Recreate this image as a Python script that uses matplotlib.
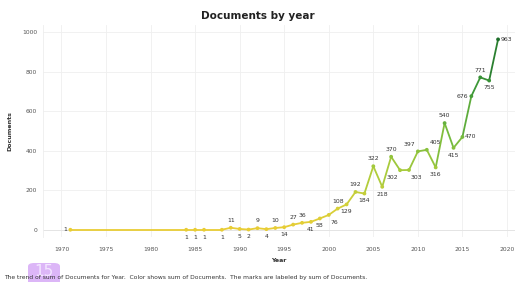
import numpy as np
import matplotlib.pyplot as plt
from matplotlib.collections import LineCollection
from matplotlib.colors import LinearSegmentedColormap
from matplotlib.patches import FancyBboxPatch

years = [1971, 1984, 1985, 1986, 1988, 1989, 1990, 1991, 1992, 1993, 1994,
         1995, 1996, 1997, 1998, 1999, 2000, 2001, 2002, 2003, 2004, 2005,
         2006, 2007, 2008, 2009, 2010, 2011, 2012, 2013, 2014, 2015, 2016,
         2017, 2018, 2019]
docs = [1, 1, 1, 1, 1, 11, 5, 2, 9, 4, 10,
        14, 27, 36, 41, 58, 76, 108, 129, 192, 184, 322,
        218, 370, 302, 303, 397, 405, 316, 540, 415, 470, 676,
        771, 755, 963]
# where each mark label sits relative to its point
label_side = ['L', 'B', 'B', 'B', 'B', 'A', 'B', 'B', 'A', 'B', 'A',
              'B', 'A', 'A', 'B', 'B', 'BR', 'A', 'B', 'A', 'B', 'A',
              'B', 'A', 'BL', 'BR', 'AL', 'AR', 'B', 'A', 'B', 'R', 'L',
              'A', 'B', 'R']

cmap = LinearSegmentedColormap.from_list(
    'yg', [(0.0, '#e9cd35'), (0.12, '#d4cf38'), (0.3, '#abcc3c'),
           (0.5, '#72b93e'), (0.75, '#3d9838'), (1.0, '#1d6e2a')])
norm = plt.Normalize(0, 963)

fig = plt.figure(figsize=(5.15, 2.82), dpi=100)
ax = fig.add_axes([0.083, 0.16, 0.917, 0.753])

x = np.array(years, dtype=float)
y = np.array(docs, dtype=float)
pts = np.column_stack([x, y]).reshape(-1, 1, 2)
segs = np.concatenate([pts[:-1], pts[1:]], axis=1)
lc = LineCollection(segs, cmap=cmap, norm=norm, linewidth=1.3,
                    capstyle='round', joinstyle='round', zorder=3)
lc.set_array((y[:-1] + y[1:]) / 2)
ax.add_collection(lc)
ax.scatter(x, y, c=y, cmap=cmap, norm=norm, s=3, zorder=4)

offsets = {'A': (0, 3.5, 'center', 'bottom'), 'B': (0, -3.5, 'center', 'top'),
           'L': (-2.5, 0, 'right', 'center'), 'R': (2, 0, 'left', 'center'),
           'AL': (-2, 3.5, 'right', 'bottom'), 'AR': (2, 3.5, 'left', 'bottom'),
           'BL': (-1, -3.5, 'right', 'top'), 'BR': (1, -3.5, 'left', 'top')}
for xi, yi, side in zip(years, docs, label_side):
    dx, dy, ha, va = offsets[side]
    ax.annotate(str(yi), (xi, yi), xytext=(dx, dy), textcoords='offset points',
                ha=ha, va=va, fontsize=4.4, color='#333333', zorder=5)

ax.set_xlim(1967.9, 2020.9)
ax.set_ylim(-35, 1038)
ax.set_xticks(range(1970, 2021, 5))
ax.set_yticks(range(0, 1001, 200))
ax.tick_params(labelsize=4.3, colors='#555555', length=0)
ax.tick_params(axis='x', pad=7.5)
ax.tick_params(axis='y', pad=4)
ax.grid(True, color='#efefef', linewidth=0.6)
ax.axhline(0, color='#e2e2e2', linewidth=0.6, zorder=1)
for s in ['top', 'right', 'bottom']:
    ax.spines[s].set_visible(False)
ax.spines['left'].set_color('#eeeeee')
ax.spines['left'].set_linewidth(0.6)
ax.set_axisbelow(True)

ax.set_xlabel('Year', fontsize=4.5, fontweight='bold', color='#333333', labelpad=4)
ax.set_ylabel('Documents', fontsize=4.5, fontweight='bold', color='#333333', labelpad=7)

fig.text(0.5, 0.945, 'Documents by year', ha='center', va='center',
         fontsize=7.5, fontweight='bold', color='#222222')

badge = FancyBboxPatch((28 / 515, 1 - 287 / 282), 32 / 515, 24 / 282,
                       boxstyle='round,pad=0,rounding_size=0.012',
                       transform=fig.transFigure, facecolor='#dcb6f7',
                       edgecolor='none', zorder=1)
fig.patches.append(badge)
fig.text(44 / 515, 1 - 272 / 282, '15', ha='center', va='center',
         fontsize=11, color='#f3e6ff', zorder=2)
fig.text(0.008, 1 - 278 / 282,
         'The trend of sum of Documents for Year.  Color shows sum of Documents.  '
         'The marks are labeled by sum of Documents.',
         ha='left', va='center', fontsize=4.3, color='#333333', zorder=3)

fig.savefig('out.png', dpi=100)
